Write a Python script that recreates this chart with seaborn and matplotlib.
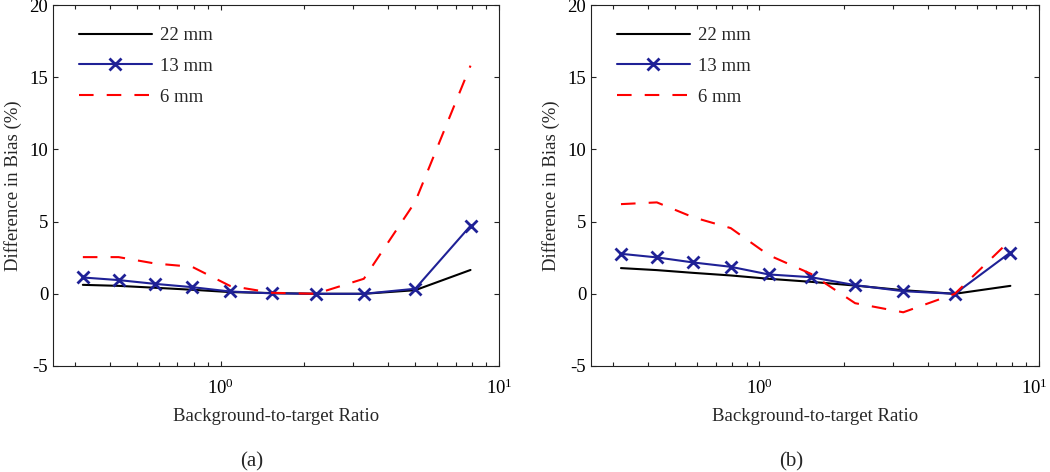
import numpy as np
import pandas as pd
import seaborn as sns
import matplotlib.pyplot as plt
from matplotlib.transforms import ScaledTranslation
from matplotlib.ticker import LogLocator, LogFormatterMathtext, NullFormatter

# background-to-target ratios (shared by both panels)
ratio = [0.32, 0.43, 0.58, 0.79, 1.08, 1.53, 2.2, 3.27, 5.0, 7.9]

# panel (a)
a_22mm = [0.62, 0.55, 0.42, 0.28, 0.12, 0.05, 0.0, 0.0, 0.25, 1.65]
a_13mm = [1.13, 0.95, 0.69, 0.46, 0.16, 0.03, 0.0, 0.0, 0.35, 4.71]
a_6mm = [2.54, 2.54, 2.1, 1.87, 0.55, 0.07, 0.0, 1.04, 6.37, 15.8]

# panel (b)
b_22mm = [1.78, 1.64, 1.45, 1.27, 1.04, 0.83, 0.57, 0.25, 0.0, 0.55]
b_13mm = [2.77, 2.52, 2.17, 1.87, 1.34, 1.15, 0.6, 0.18, 0.0, 2.86]
b_6mm = [6.21, 6.33, 5.3, 4.55, 2.68, 1.38, -0.65, -1.28, 0.0, 3.72]

labels = ['22 mm', '13 mm', '6 mm']
panel_names = ['(a)', '(b)']

sns.set_style('ticks')
plt.rcParams['font.family'] = ['Liberation Serif', 'DejaVu Serif']
plt.rcParams['mathtext.fontset'] = 'custom'
plt.rcParams['mathtext.rm'] = 'Liberation Serif'
plt.rcParams['mathtext.it'] = 'Liberation Serif:italic'
plt.rcParams['axes.unicode_minus'] = False
fs = 13.5

blue = '#1f2196'

fig = plt.figure(figsize=(10.5, 4.72), dpi=100)
ax_a = fig.add_axes([53 / 1050, 106 / 472, 446 / 1050, 361 / 472])
ax_b = fig.add_axes([591 / 1050, 106 / 472, 448 / 1050, 361 / 472])

panels = [(ax_a, a_22mm, a_13mm, a_6mm), (ax_b, b_22mm, b_13mm, b_6mm)]

for i, (ax, s22, s13, s6) in enumerate(panels):
    df = pd.DataFrame({'ratio': ratio, '22 mm': s22, '13 mm': s13, '6 mm': s6})
    sns.lineplot(data=df, x='ratio', y='22 mm', ax=ax, color='black', lw=1.5,
                 label=labels[0])
    sns.lineplot(data=df, x='ratio', y='13 mm', ax=ax, color=blue, lw=1.5,
                 marker='x', markersize=8, markeredgewidth=2,
                 markeredgecolor=blue, label=labels[1])
    sns.lineplot(data=df, x='ratio', y='6 mm', ax=ax, color='#ff0000', lw=1.5,
                 linestyle=(0, (7, 6.3)), label=labels[2])

    ax.set_xscale('log')
    ax.set_xlim(0.25, 10)
    ax.set_ylim(-5, 20)
    ax.set_yticks([-5, 0, 5, 10, 15, 20])
    ax.xaxis.set_major_locator(LogLocator(base=10, numticks=5))
    ax.xaxis.set_major_formatter(LogFormatterMathtext())
    ax.xaxis.set_minor_locator(LogLocator(base=10, subs=np.arange(2, 10), numticks=20))
    ax.xaxis.set_minor_formatter(NullFormatter())
    ax.tick_params(which='both', direction='in', top=True, right=True,
                   width=0.8, colors='#222222', labelcolor='black')
    ax.tick_params(which='major', length=3.4, labelsize=fs)
    ax.tick_params(axis='x', which='major', pad=9)
    ax.tick_params(which='minor', length=2.8)
    for sp in ax.spines.values():
        sp.set_visible(True)
        sp.set_linewidth(0.8)
        sp.set_color('#222222')

    ax.set_xlabel('Background-to-target Ratio', fontsize=fs, labelpad=7)
    ax.set_ylabel('Difference in Bias (%)', fontsize=fs, labelpad=5)

    ax.legend(loc='upper left', bbox_to_anchor=(0.02, 0.985), frameon=False,
              fontsize=fs, handlelength=3.9, handletextpad=0.45,
              labelspacing=0.72, numpoints=1)

    pos = ax.get_position()
    fig.text(pos.x0 + pos.width / 2 - 24 / 1050, 1 - 462 / 472, panel_names[i],
             ha='center', va='center', fontsize=15)

# keep the 10^1 label of panel (b) inside the figure edge
fig.canvas.draw()
for lbl in ax_b.get_xticklabels():
    if lbl.get_position()[0] == 10:
        lbl.set_transform(lbl.get_transform() + ScaledTranslation(-5 / 100, 0, fig.dpi_scale_trans))

fig.savefig('out.png', dpi=100)
